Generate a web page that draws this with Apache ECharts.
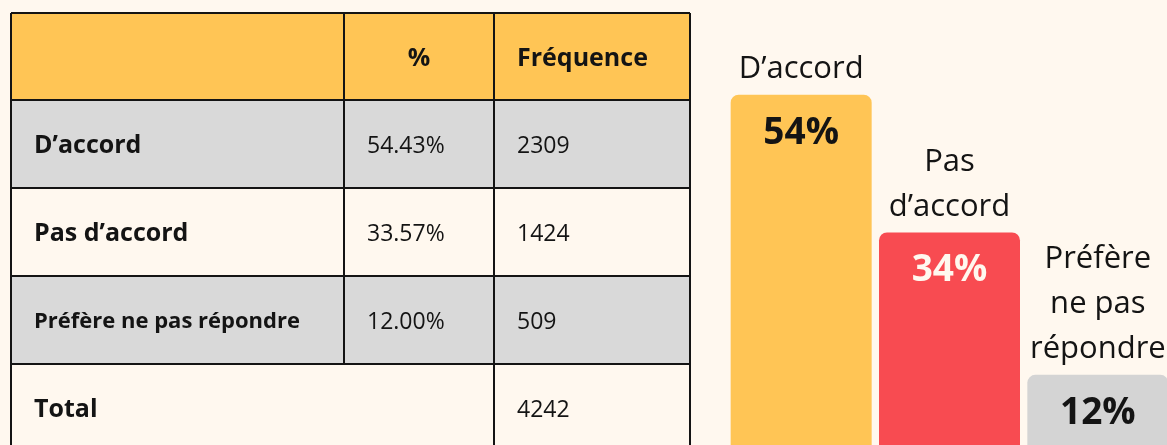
<!DOCTYPE html>
<html>
<head>
<meta charset="utf-8">
<script src="https://cdn.jsdelivr.net/npm/echarts@6/dist/echarts.min.js"></script>
<style>
html, body { margin: 0; padding: 0; background: #fff8ef; }
#chart { width: 1167px; height: 445px; }
</style>
</head>
<body>
<div id="chart"></div>
<script>
"use strict";
// data
var categories = ['D’accord', 'Pas d’accord', 'Préfère ne pas répondre'];
var barNames = ['D’accord', 'Pas\nd’accord', 'Préfère\nne pas\nrépondre'];
var percentValues = [54.43, 33.57, 12.00];
var frequencyValues = [2309, 1424, 509];
var totalLabel = 'Total';
var totalFrequency = 4242;
var headerLabels = ['', '%', 'Fréquence'];

// styles
var bg = '#fff8ef';
var ink = '#141414';
var barColors = ['#ffc555', '#f84b51', '#d4d4d4'];
var pctColors = [ink, bg, ink];
var font = '"Open Sans", Lato, sans-serif';

var colX = [11, 344, 494, 690];
var rowY = [13, 100, 188, 276, 364, 452];
var rowFill = ['#ffc555', '#d9d9d9', bg, '#d9d9d9', bg];

function txt(text, x, y, size, bold, align) {
	return {
		type : 'text',
		silent : true,
		style : {
			text : text,
			x : x,
			y : y + 2,
			fill : ink,
			font : (bold ? 'bold ' : '') + size + 'px ' + font,
			align : align || 'left',
			textAlign : align || 'left',
			verticalAlign : 'middle',
			textVerticalAlign : 'middle'
		}
	};
}

function line(x1, y1, x2, y2) {
	return {
		type : 'line',
		silent : true,
		shape : { x1 : x1, y1 : y1, x2 : x2, y2 : y2 },
		style : { stroke : ink, lineWidth : 2 }
	};
}

function tableGraphic() {
	var g = [];
	var left = colX[0], right = colX[3];
	for (var r = 0; r < 5; r++) {
		g.push({
			type : 'rect',
			silent : true,
			shape : { x : left, y : rowY[r], width : right - left, height : rowY[r + 1] - rowY[r] },
			style : { fill : rowFill[r] }
		});
	}
	for (var r = 0; r < 5; r++) {
		g.push(line(left, rowY[r], right, rowY[r]));
	}
	g.push(line(left, rowY[0], left, rowY[5]));
	g.push(line(right, rowY[0], right, rowY[5]));
	g.push(line(colX[2], rowY[0], colX[2], rowY[5]));
	g.push(line(colX[1], rowY[0], colX[1], rowY[4]));

	var pad = 23;
	var mid = function(r) { return (rowY[r] + rowY[r + 1]) / 2; };
	// header
	g.push(txt(headerLabels[1], (colX[1] + colX[2]) / 2, mid(0), 25, true, 'center'));
	g.push(txt(headerLabels[2], colX[2] + pad, mid(0), 25, true));
	// body
	for (var i = 0; i < categories.length; i++) {
		var size = categories[i].length > 15 ? 22 : 25;
		g.push(txt(categories[i], colX[0] + pad, mid(i + 1), size, true));
		g.push(txt(percentValues[i].toFixed(2) + '%', colX[1] + pad, mid(i + 1), 23, false));
		g.push(txt(String(frequencyValues[i]), colX[2] + pad, mid(i + 1), 23, false));
	}
	g.push(txt(totalLabel, colX[0] + pad, mid(4), 25, true));
	g.push(txt(String(totalFrequency), colX[2] + pad, mid(4), 23, false));
	return g;
}

var chart = echarts.init(document.getElementById('chart'));

chart.setOption({
	backgroundColor : bg,
	animation : false,
	graphic : tableGraphic(),
	grid : {
		left : 727,
		right : -5,
		top : 58,
		bottom : -9,
		outerBoundsMode : 'none'
	},
	xAxis : {
		type : 'category',
		data : categories,
		show : false
	},
	yAxis : {
		type : 'value',
		min : 0,
		max : 60,
		show : false
	},
	series : [ {
		type : 'bar',
		barWidth : 141,
		silent : true,
		data : percentValues.map(function(v, i) {
			return {
				value : v,
				itemStyle : { color : barColors[i] },
				label : { color : pctColors[i] }
			};
		}),
		itemStyle : { borderRadius : [ 8, 8, 0, 0 ] },
		label : {
			show : true,
			position : 'insideTop',
			distance : 20,
			fontFamily : font,
			fontSize : 37,
			fontWeight : 'bold',
			formatter : function(p) {
				return Math.round(p.value) + '%';
			}
		}
	}, {
		type : 'bar',
		barWidth : 141,
		barGap : '-100%',
		silent : true,
		data : percentValues,
		itemStyle : { color : 'transparent' },
		label : {
			show : true,
			position : 'top',
			distance : 3,
			color : ink,
			fontFamily : font,
			fontSize : 31,
			lineHeight : 45,
			formatter : function(p) {
				return barNames[p.dataIndex];
			}
		}
	} ]
});
</script>
</body>
</html>
